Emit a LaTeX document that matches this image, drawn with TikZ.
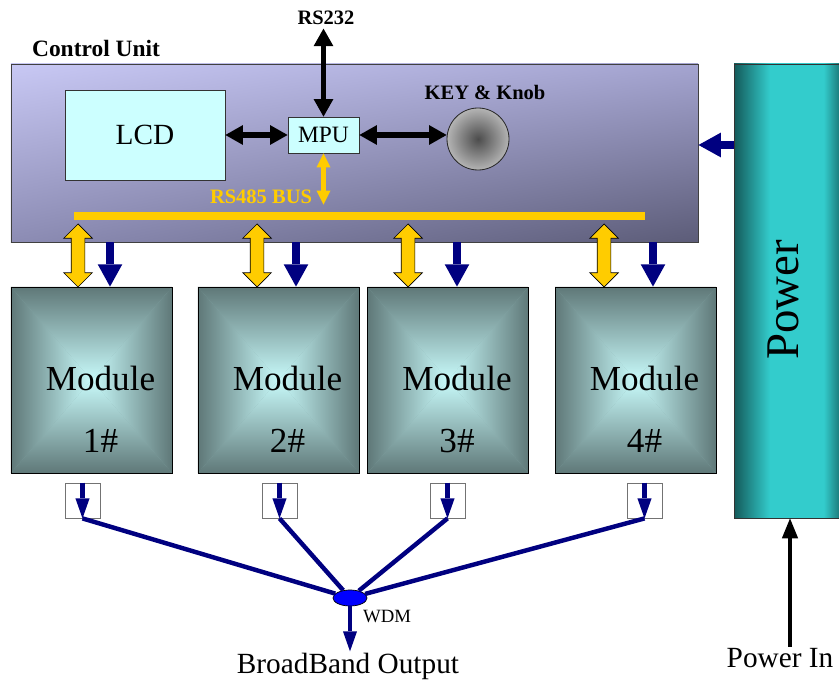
\documentclass[tikz,border=0pt]{standalone}
\usepackage{fontspec}
\setmainfont{Liberation Serif}
\usetikzlibrary{positioning,calc,arrows.meta,shapes.arrows,shapes.geometric,shadings}
\definecolor{cuUL}{HTML}{C8C8F4}
\definecolor{cuUR}{HTML}{A4A4D0}
\definecolor{cuLL}{HTML}{8C8CB4}
\definecolor{cuLR}{HTML}{5C5C78}
\definecolor{lcdFill}{HTML}{CCFFFF}
\definecolor{busYellow}{HTML}{FFCC00}
\definecolor{navyArr}{HTML}{000080}
\definecolor{modEdge}{HTML}{5F7878}
\definecolor{modCore}{HTML}{C8FAFA}
\definecolor{pwDark}{HTML}{145A5A}
\definecolor{pwLight}{HTML}{33CCCC}
\definecolor{knobDark}{HTML}{4C4C4C}
\definecolor{knobLight}{HTML}{B4B4B4}
\definecolor{wdmBlue}{HTML}{0000FF}
\pgfdeclarehorizontalshading{powerShade}{100bp}{color(0bp)=(pwDark); color(25bp)=(pwDark);
  color(41bp)=(pwLight); color(65bp)=(pwLight); color(75bp)=(pwDark); color(100bp)=(pwDark)}

\begin{document}
\begin{tikzpicture}[x=0.03cm, y=-0.03cm,
  cuBox/.style={draw=black!75, line width=0.8pt, minimum width=20.61cm, minimum height=5.34cm,
    inner sep=0pt, upper left=cuUL, upper right=cuUR, lower left=cuLL, lower right=cuLR},
  cyanBox/.style={draw=black!80, line width=0.7pt, fill=lcdFill, inner sep=0pt},
  modBox/.style={draw=black, line width=0.7pt, fill=modEdge!60!modCore, inner sep=0pt,
    minimum width=4.83cm, minimum height=5.58cm,
    path picture={
      \coordinate (pa) at (path picture bounding box.north west);
      \coordinate (pb) at (path picture bounding box.north east);
      \coordinate (pc) at (path picture bounding box.south east);
      \coordinate (pd) at (path picture bounding box.south west);
      \coordinate (pm) at (path picture bounding box.center);
      \shade[top color=modEdge, bottom color=modCore] (pa) -- (pb) -- (pm) -- cycle;
      \shade[top color=modCore, bottom color=modEdge] (pd) -- (pc) -- (pm) -- cycle;
      \shade[left color=modEdge, right color=modCore] (pa) -- (pd) -- (pm) -- cycle;
      \shade[left color=modCore, right color=modEdge] (pb) -- (pc) -- (pm) -- cycle;
    }},
  modText/.style={font=\fontsize{30}{32}\selectfont, inner sep=0pt},
  outBox/.style={draw=black!55, line width=0.7pt, fill=white, minimum size=1.05cm, inner sep=0pt},
  busArrow/.style={double arrow, draw=black, line width=0.6pt, fill=busYellow, rotate=90,
    minimum height=1.89cm, inner xsep=0pt, inner ysep=0.195cm, double arrow head extend=0.22cm},
  feedArrow/.style={draw=navyArr, line width=6pt, -{Triangle[width=21pt,length=19pt,line width=0pt]}},
  fibArrow/.style={draw=navyArr, line width=3.5pt, -{Triangle[width=12pt,length=17pt,line width=0pt]}},
  fibLine/.style={draw=navyArr, line width=3.8pt},
  blkArrow/.style={draw=black, line width=4.3pt,
    {Triangle[width=17pt,length=15pt,line width=0pt]}-{Triangle[width=17pt,length=15pt,line width=0pt]}},
  rsArrow/.style={draw=busYellow, line width=3.5pt,
    {Triangle[width=12pt,length=12pt,line width=0pt]}-{Triangle[width=12pt,length=12pt,line width=0pt]}},
  pinArrow/.style={draw=black, line width=3.5pt, -{Triangle[width=14pt,length=17pt,line width=0pt]}},
  boldLbl/.style={font=\fontsize{17.5}{20}\selectfont\bfseries, inner sep=0pt},
  plainLbl/.style={font=\fontsize{25}{28}\selectfont, inner sep=1pt},
]
\useasboundingbox (0,0) rectangle (839,682);

% power supply column (right edge runs off the page)
\node[draw=black!80, line width=0.8pt, shading=powerShade, minimum width=3.36cm, minimum height=13.62cm,
  inner sep=0pt] (power) at (790,291) {};
\node[font=\fontsize{40}{44}\selectfont, rotate=90, inner sep=0pt] (powerTxt) at (783,300) {Power};

% control unit
\node[cuBox] (cu) at (354.5,153) {};
\node[font=\fontsize{20}{22}\selectfont\bfseries, inner sep=0pt] (cuLbl) at (96,48) {Control Unit};
\node[cyanBox, minimum width=4.8cm, minimum height=2.7cm, font=\fontsize{25}{28}\selectfont] (lcd) at (145,135) {LCD};
\node[cyanBox, minimum width=2.13cm, minimum height=1.08cm, font=\fontsize{20}{22}\selectfont] (mpu) at (323.5,135) {MPU};
\node[circle, draw=black!85, line width=0.7pt, minimum size=1.86cm, inner sep=0pt,
  inner color=knobDark, outer color=knobLight] (knob) at (478,139) {};
\node[boldLbl] (keyLbl) at (485,92) {KEY \& Knob};
\node[boldLbl] (rs232) at (326,18) {RS232};
\node[boldLbl, text=busYellow] (rs485) at (261,197) {RS485 BUS};
\node[fill=busYellow, minimum width=17.13cm, minimum height=0.24cm, inner sep=0pt] (bus) at (359.5,216) {};

\draw[blkArrow] (lcd.east) -- (mpu.west);
\draw[blkArrow] (mpu.east) -- (mpu.east -| knob.west);
\draw[blkArrow, shorten >=3pt] (mpu.north) -- (mpu.north |- rs232.south);
\draw[rsArrow, shorten >=6pt] (mpu.south) -- (mpu.south |- bus.north);
\draw[feedArrow] (power.west |- 0,145) -- (cu.east |- 0,145);

% WDM coupler and output
\node[ellipse, draw=black, line width=0.6pt, fill=wdmBlue, minimum width=1.02cm, minimum height=0.48cm,
  inner sep=0pt] (wdm) at (350,598) {};
\node[font=\fontsize{16}{18}\selectfont, inner sep=0pt] (wdmLbl) at (387,617) {WDM};
\node[plainLbl] (out) at (348,666) {BroadBand Output};
\draw[fibArrow] (wdm.south) -- (wdm.south |- out.north);

% modules
\foreach \m/\cx/\yx/\nx/\ox in {1/91.5/78/110/82.5, 2/278.5/257/296/279.5,
                                3/448/408/457/447.5, 4/635.5/604/653/644.5} {
  \node[modBox] (m\m) at (\cx,380) {};
  \node[modText] (m\m t) at ($(m\m.center)+(9,-2)$) {Module};
  \node[modText] (m\m n) at ($(m\m.center)+(9,61)$) {\m\#};
  \node[busArrow] (ya\m) at (\yx,255.5) {};
  \draw[feedArrow] (cu.south -| \nx,0) -- (m\m.north -| \nx,0);
  \node[outBox] (o\m) at (\ox,500.5) {};
  \draw[fibLine] (o\m.south) -- (wdm);
  \draw[fibArrow] (o\m.north) -- (o\m.south);
}

% power input
\node[plainLbl] (pin) at (780,658) {Power In};
\draw[pinArrow] (pin.north -| power.south) -- (power.south);
\end{tikzpicture}
\end{document}
